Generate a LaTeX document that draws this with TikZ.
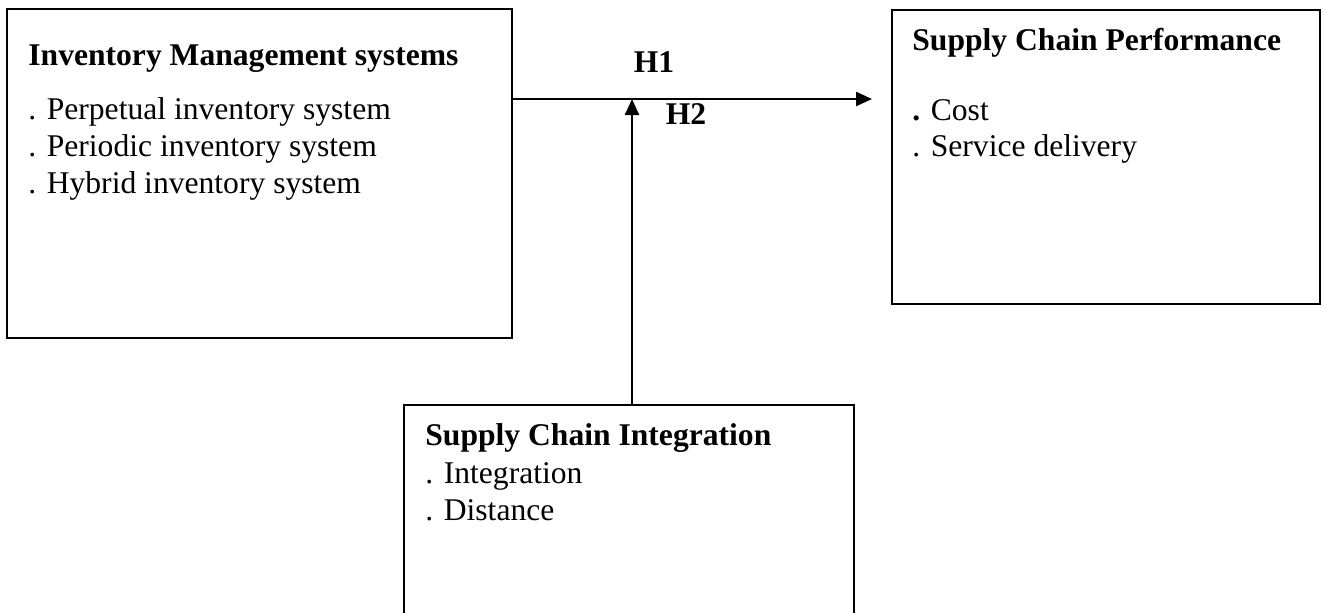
\documentclass[tikz,border=0pt]{standalone}
\usepackage{fontspec}
\setmainfont{Liberation Serif}
\usetikzlibrary{arrows.meta}

\begin{document}
\begin{tikzpicture}[
    x=0.5pt, y=-0.5pt,
    varbox/.style={draw=black, line width=1.1pt, inner sep=0pt},
    boxtext/.style={anchor=base west, inner sep=0pt, font=\fontsize{15.8}{19}\selectfont},
    boxtitle/.style={boxtext, font=\fontsize{15.8}{19}\selectfont\bfseries},
    hyplabel/.style={inner sep=0pt, font=\fontsize{15.8}{19}\selectfont\bfseries},
    link/.style={line width=1.2pt, -{Triangle[length=8pt,width=7pt]}}
    ]
    \useasboundingbox (0,0) rectangle (1327,612);

    \node [varbox, minimum width=252.5pt, minimum height=164.5pt] (ims) at (259.5,173.5) {};
    \node [boxtitle] (imstitle) at (28,65) {Inventory Management systems};
    \node [boxtext] (ims1) at (28,119) {. Perpetual inventory system};
    \node [boxtext] (ims2) at (28,156) {. Periodic inventory system};
    \node [boxtext] (ims3) at (28,193) {. Hybrid inventory system};

    \node [varbox, minimum width=214pt, minimum height=147pt] (scp) at (1106,157) {};
    \node [boxtitle] (scptitle) at (912,50) {Supply Chain Performance};
    \node [boxtext] (scp1) at (912,120) {\textbf{.} Cost};
    \node [boxtext] (scp2) at (912,156) {. Service delivery};

    \node [varbox, minimum width=225pt, minimum height=105.5pt] (sci) at (629,510.5) {};
    \node [boxtitle] (scititle) at (425,445) {Supply Chain Integration};
    \node [boxtext] (sci1) at (425,483) {. Integration};
    \node [boxtext] (sci2) at (425,520) {. Distance};

    \coordinate (h1end) at (872,99);
    \coordinate (h2end) at (632,99);
    \node [hyplabel] (h1) at (654,62) {H1};
    \node [hyplabel] (h2) at (686,114) {H2};

    \draw [link] (ims.east |- h1end) -- (h1end);
    \draw [link] (sci.north -| h2end) -- (h2end);
\end{tikzpicture}
\end{document}
